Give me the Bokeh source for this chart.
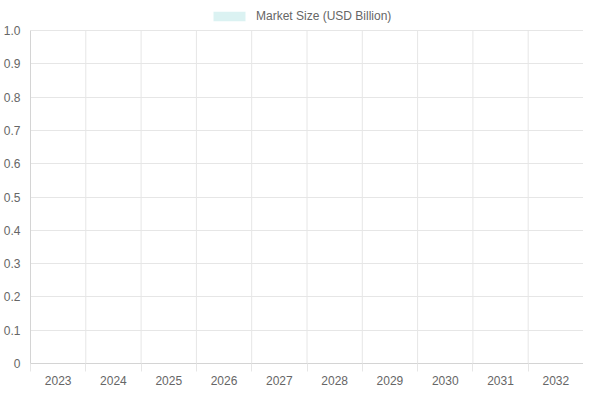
from bokeh.plotting import figure
from bokeh.models import Range1d, FixedTicker, Legend, LegendItem
from bokeh.embed import file_html
from bokeh.resources import INLINE

years = ["2023", "2024", "2025", "2026", "2027", "2028", "2029", "2030", "2031", "2032"]
market_size = [0, 0, 0, 0, 0, 0, 0, 0, 0, 0]
series_name = "Market Size (USD Billion)"
y_ticks = [0, 0.1, 0.2, 0.3, 0.4, 0.5, 0.6, 0.7, 0.8, 0.9, 1.0]
y_tick_labels = ["0", "0.1", "0.2", "0.3", "0.4", "0.5", "0.6", "0.7", "0.8", "0.9", "1.0"]

FONT = "Liberation Sans"
TEXT = "#666666"
GRID = "#e6e6e6"
AXIS = "#d4d4d4"

n = len(years)
centers = [i + 0.5 for i in range(n)]
bounds = list(range(n + 1))

FW = 553          # frame width (px)
DATA_H = 333      # height of the data area (px)
TOP = 30          # room for legend above the data area (px)
FH = DATA_H + TOP
y0, y1 = y_ticks[0], y_ticks[-1]
y_top = y1 + (y1 - y0) * TOP / DATA_H

p = figure(frame_width=FW, frame_height=FH, output_backend="svg", toolbar_location=None,
           x_range=Range1d(0, n), y_range=Range1d(y0, y_top),
           min_border_left=0, min_border_right=0, min_border_top=0, min_border_bottom=0)
p.outline_line_color = None
p.background_fill_color = "white"
p.border_fill_color = "white"

# vertical grid lines (category boundaries), limited to data area
p.segment(x0=bounds, y0=[y0] * len(bounds), x1=bounds, y1=[y1] * len(bounds),
          line_color=GRID, line_width=1)

r = p.vbar(x=centers, top=market_size, bottom=0, width=0.8,
           fill_color="#4bc0c0", fill_alpha=0.2, line_color=None)

# x axis
p.xaxis.ticker = FixedTicker(ticks=centers, minor_ticks=bounds)
p.xaxis.major_label_overrides = {c: y for c, y in zip(centers, years)}
p.xaxis.major_tick_out = 0
p.xaxis.major_tick_in = 0
p.xaxis.minor_tick_out = 8
p.xaxis.minor_tick_in = 0
p.xaxis.minor_tick_line_color = GRID
p.xaxis.axis_line_color = AXIS
p.xaxis.major_label_standoff = 4
p.xaxis.major_label_text_font = FONT
p.xaxis.major_label_text_font_size = "12px"
p.xaxis.major_label_text_color = TEXT

# y axis
p.yaxis.ticker = FixedTicker(ticks=y_ticks)
p.yaxis.bounds = (y0, y1)
p.yaxis.major_label_overrides = {t: l for t, l in zip(y_ticks, y_tick_labels)}
p.yaxis.major_tick_out = 0
p.yaxis.major_tick_in = 0
p.yaxis.minor_tick_line_color = None
p.yaxis.axis_line_color = AXIS
p.yaxis.major_label_standoff = 10
p.yaxis.major_label_text_font = FONT
p.yaxis.major_label_text_font_size = "12px"
p.yaxis.major_label_text_color = TEXT

# grids
p.xgrid.grid_line_color = None
p.ygrid.ticker = FixedTicker(ticks=y_ticks)
p.ygrid.grid_line_color = GRID

legend = Legend(items=[LegendItem(label=series_name, renderers=[r])],
                orientation="horizontal", location=(179, FH - 23),
                glyph_width=40, glyph_height=12, label_standoff=7, label_height=14,
                label_text_font=FONT, label_text_font_size="12px",
                label_text_color=TEXT, border_line_color=None,
                background_fill_alpha=0, padding=0, margin=0, spacing=0)
p.add_layout(legend)

open("out.html", "w").write(file_html(p, INLINE))
